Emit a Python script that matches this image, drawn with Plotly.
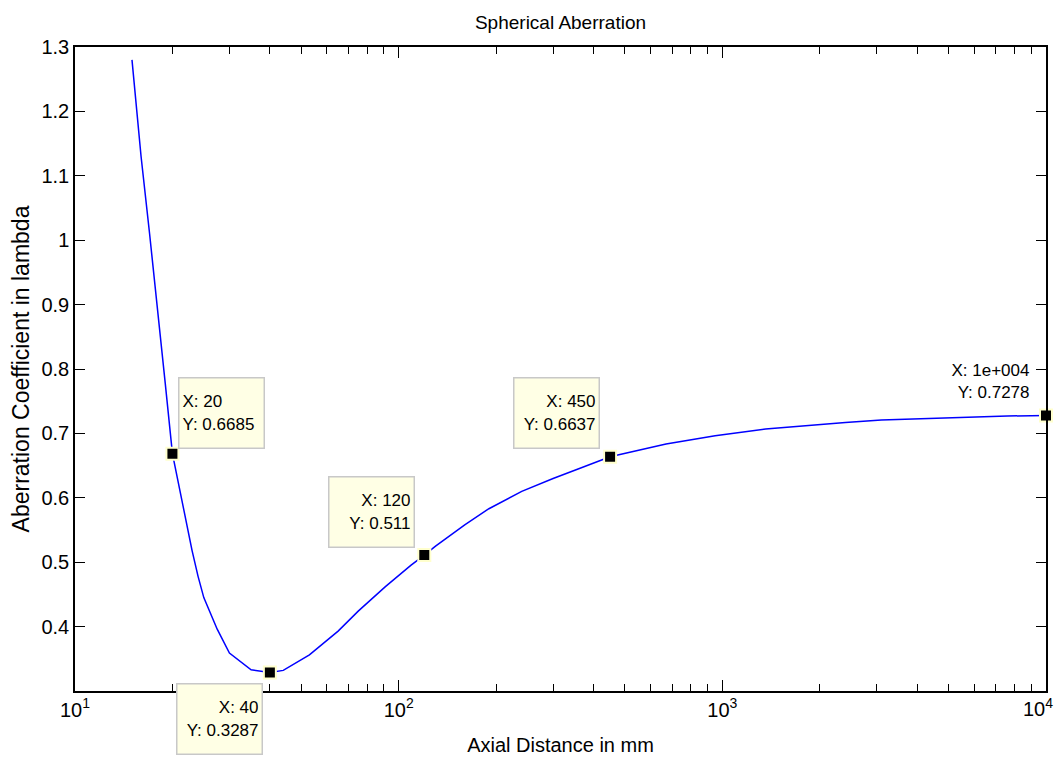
import math
import plotly.graph_objects as go

# ---- data ----
axial_mm = [15, 16, 17, 18, 19, 20, 21, 22, 23, 24, 25, 27.5, 30, 35, 40, 44, 53, 65, 75,
            91, 109, 120, 130, 160, 190, 240, 300, 360, 450, 670, 950, 1360, 1800, 2400,
            3100, 4400, 7600, 10000]
aberration = [1.28, 1.13, 1.01, 0.895, 0.778, 0.6685, 0.615, 0.562, 0.518, 0.478, 0.445,
              0.396, 0.359, 0.333, 0.3287, 0.332, 0.356, 0.393, 0.424, 0.462, 0.495,
              0.511, 0.525, 0.558, 0.583, 0.610, 0.630, 0.645, 0.6637, 0.6835, 0.6964,
              0.7068, 0.712, 0.717, 0.7207, 0.7233, 0.727, 0.7278]

tip_x = [20, 40, 120, 450, 10000]
tip_y = [0.6685, 0.3287, 0.511, 0.6637, 0.7278]
tip_xlabel = ["20", "40", "120", "450", "1e+004"]
tip_ylabel = ["0.6685", "0.3287", "0.511", "0.6637", "0.7278"]

x_tick_vals = [10, 100, 1000, 10000]
x_tick_text = ["10<sup>1</sup>", "10<sup>2</sup>", "10<sup>3</sup>", "10<sup>4</sup>"]
y_tick_vals = [0.4, 0.5, 0.6, 0.7, 0.8, 0.9, 1.0, 1.1, 1.2, 1.3]
y_tick_text = ["0.4", "0.5", "0.6", "0.7", "0.8", "0.9", "1", "1.1", "1.2", "1.3"]

FONT = "Liberation Sans, Arial, sans-serif"

minor_vals = [m * 10 ** d for d in range(1, 4) for m in range(2, 10)]

fig = go.Figure()
fig.add_trace(go.Scatter(x=axial_mm, y=aberration, mode="lines",
                         line=dict(color="rgb(0,0,255)", width=1.5),
                         hoverinfo="skip", showlegend=False))
fig.add_trace(go.Scatter(x=tip_x, y=tip_y, mode="markers", cliponaxis=False,
                         marker=dict(symbol="square", size=12, color="black",
                                     line=dict(color="rgb(255,255,205)", width=2)),
                         showlegend=False))

# data tip boxes: anchor side and pixel offset from the tip point
tip_layout = [
    dict(xanchor="left", yanchor="bottom", xshift=6, yshift=5, align="left", box=True),
    dict(xanchor="right", yanchor="top", xshift=-7, yshift=-10, align="right", box=True),
    dict(xanchor="right", yanchor="bottom", xshift=-9, yshift=7, align="right", box=True),
    dict(xanchor="right", yanchor="bottom", xshift=-10, yshift=8, align="right", box=True),
    dict(xanchor="right", yanchor="bottom", xshift=-12, yshift=10, align="right", box=False),
]
for xv, yv, xl, yl, lay in zip(tip_x, tip_y, tip_xlabel, tip_ylabel, tip_layout):
    extra = dict(width=78, height=63) if lay["box"] else {}
    fig.add_annotation(
        x=math.log10(xv), y=yv, xref="x", yref="y",
        text=f"X: {xl}<br>Y: {yl}", showarrow=False,
        xanchor=lay["xanchor"], yanchor=lay["yanchor"],
        xshift=lay["xshift"], yshift=lay["yshift"], align=lay["align"],
        valign="middle",
        bgcolor="rgb(255,255,229)" if lay["box"] else "rgba(0,0,0,0)",
        bordercolor="rgb(200,200,200)" if lay["box"] else "rgba(0,0,0,0)",
        borderwidth=1.5, borderpad=3,
        font=dict(family=FONT, size=17, color="black"),
        **extra,
    )

# the last decade label sits on the page edge, so it is drawn as an annotation
# nudged inward (plotly would otherwise hide it as overflowing the page)
fig.add_annotation(
    x=math.log10(x_tick_vals[-1]), y=0, xref="x", yref="paper",
    text=x_tick_text[-1], showarrow=False, xanchor="right", yanchor="top",
    xshift=8, yshift=-3, borderpad=0,
    font=dict(family=FONT, size=20, color="black"),
)

# page body has an 8px margin, so the figure is sized/offset to compensate
fig.update_layout(
    width=1048, height=753,
    margin=dict(l=67, r=8, t=39, b=68),
    paper_bgcolor="white", plot_bgcolor="white",
    title=dict(text="Spherical Aberration", x=0.5, xref="paper", xanchor="center",
               y=1.0, yref="paper", yanchor="bottom", pad=dict(b=18),
               font=dict(family=FONT, size=19, color="black")),
    xaxis=dict(type="log", range=[1, 4], tickmode="array", tickvals=x_tick_vals[:-1],
               ticktext=x_tick_text[:-1], ticks="inside", ticklen=11, tickwidth=1.2,
               tickcolor="black", showline=True, linecolor="black", linewidth=1.5,
               mirror="ticks", showgrid=False, zeroline=False,
               minor=dict(tickmode="array", tickvals=minor_vals, ticks="inside",
                          ticklen=7, tickwidth=1.2, tickcolor="black", showgrid=False),
               tickfont=dict(family=FONT, size=20, color="black"),
               title=dict(text="Axial Distance in mm", standoff=18,
                          font=dict(family=FONT, size=20, color="black"))),
    yaxis=dict(range=[0.3, 1.3], tickmode="array", tickvals=y_tick_vals,
               ticktext=y_tick_text, ticks="inside", ticklen=10, tickwidth=1.2,
               tickcolor="black", showline=True, linecolor="black", linewidth=1.5,
               mirror="ticks", showgrid=False, zeroline=False,
               tickfont=dict(family=FONT, size=20, color="black"),
               title=dict(text="Aberration Coefficient in lambda", standoff=8,
                          font=dict(family=FONT, size=23, color="black"))),
)

fig.write_html("out.html")
